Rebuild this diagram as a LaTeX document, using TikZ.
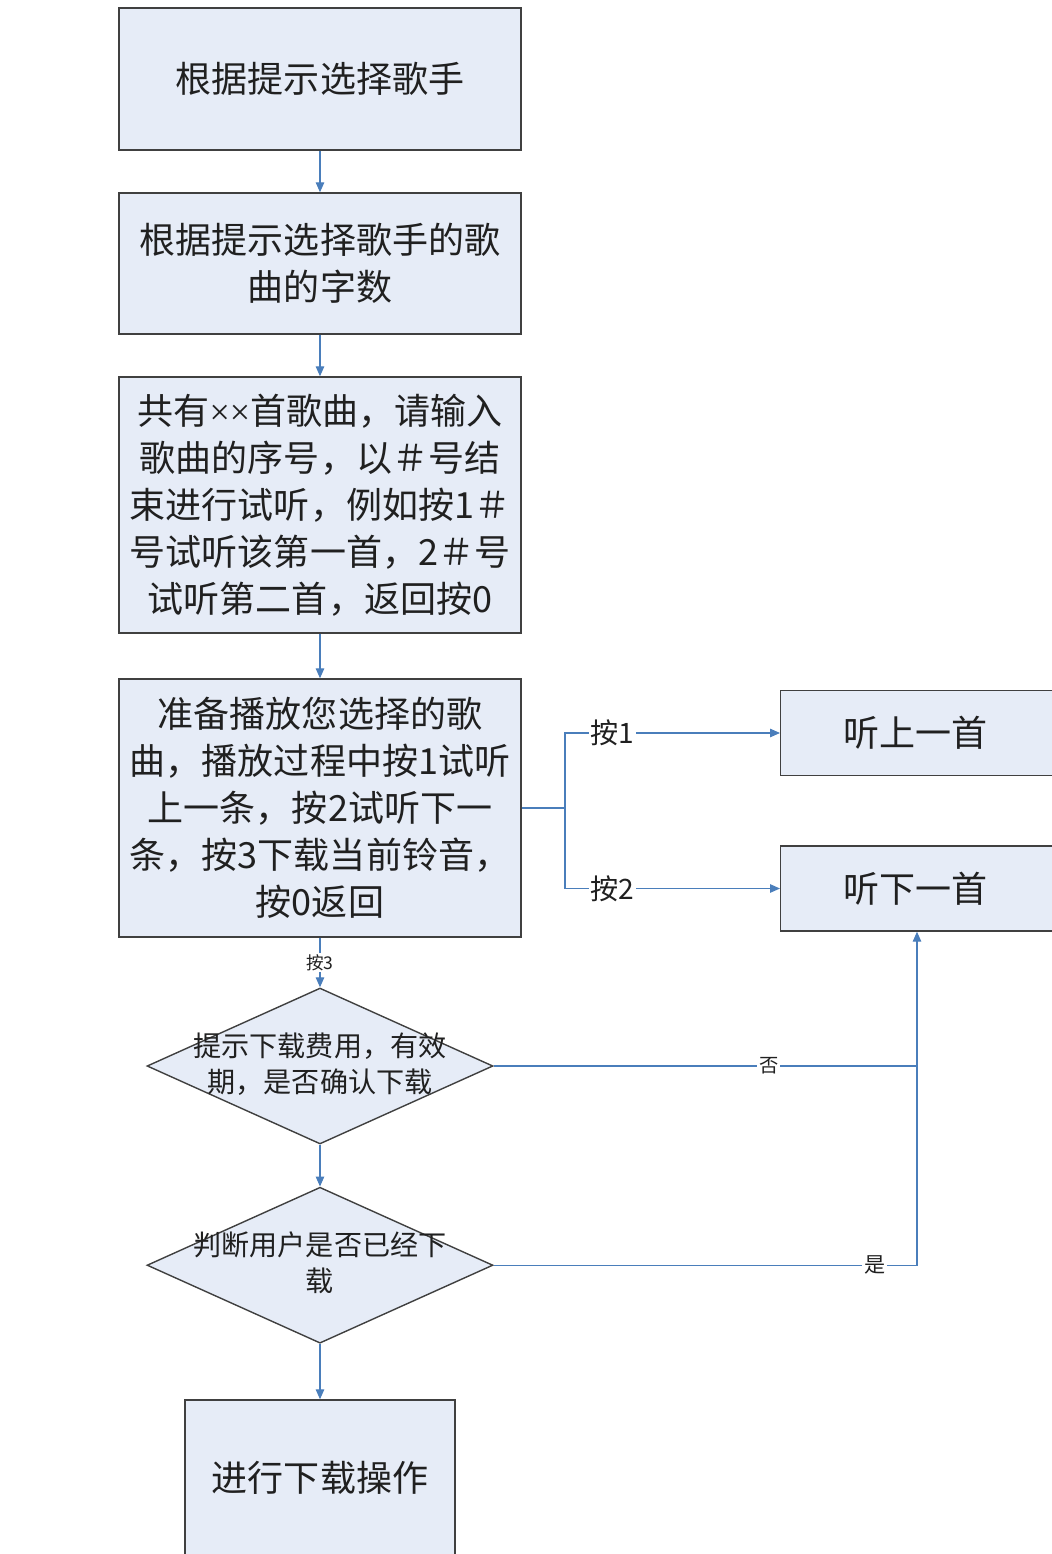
\documentclass[tikz,border=0pt]{standalone}
\usepackage{fontspec}
\usepackage{tikz}
\usepackage{xcolor}
\usetikzlibrary{shapes.geometric,positioning,arrows.meta,calc}
\newfontfamily\cjk{Noto Sans CJK SC}
\newfontfamily\latin{Liberation Serif}
\definecolor{boxFill}{HTML}{E6ECF7}
\definecolor{boxLine}{HTML}{404040}
\definecolor{flowBlue}{HTML}{4A7EBB}
\definecolor{txtDark}{HTML}{202020}

\begin{document}
\begin{tikzpicture}[x=0.02cm, y=-0.02cm, font=\cjk, text=txtDark]

    % Shapes
    \tikzstyle{step box}=[rectangle, draw=boxLine, line width=0.8pt, fill=boxFill, align=center, inner sep=0pt,
        minimum width=8.04cm, font=\cjk\fontsize{20.5}{26.7}\selectfont]
    \tikzstyle{side box}=[rectangle, draw=boxLine, line width=0.8pt, fill=boxFill, inner sep=0pt,
        minimum width=8cm, minimum height=1.7cm, font=\cjk\fontsize{20.5}{26.7}\selectfont]
    \tikzstyle{decision}=[diamond, draw=boxLine, line width=0.8pt, fill=boxFill, inner sep=0pt,
        minimum width=6.92cm, minimum height=3.12cm]
    \tikzstyle{decision text}=[align=center, inner sep=0pt, font=\cjk\fontsize{16}{20.5}\selectfont]
    \tikzstyle{flow}=[draw=flowBlue, line width=0.7pt]
    \tikzstyle{arrow}=[flow, -{Triangle[length=2mm, width=1.7mm]}, color=flowBlue]
    \tikzstyle{key}=[fill=white, inner sep=1pt, text=txtDark]

    \useasboundingbox (0,0) rectangle (1051,1554);

    % Blocks
    \node[step box, minimum height=2.84cm] at (320,79) (pickSinger) {根据提示选择歌手};
    \node[step box, minimum height=2.82cm] at (320,263.5) (pickLength) {根据提示选择歌手的歌\\曲的字数};
    \node[step box, minimum height=5.12cm] at (320,505) (songList)
        {共有{\latin ××}首歌曲，请输入\\歌曲的序号，以＃号结\\束进行试听，例如按1＃\\号试听该第一首，2＃号\\试听第二首，返回按0};
    \node[step box, minimum height=5.16cm] at (320,808) (playSong)
        {准备播放您选择的歌\\曲，播放过程中按1试听\\上一条，按2试听下一\\条，按3下载当前铃音，\\按0返回};

    % Side blocks (cut by the page edge)
    \node[side box, anchor=west] at (780,733) (prevSong) {\hspace*{-2.6cm}听上一首};
    \node[side box, anchor=west] at (780,888.5) (nextSong) {\hspace*{-2.6cm}听下一首};
    \coordinate (nextIn) at ($(nextSong.south west)+(137,0)$);

    % Decisions
    \node[decision] at (320,1066) (askFee) {};
    \node[decision text] at (320,1064) (askFeeText) {提示下载费用，有效\\期，是否确认下载};
    \node[decision] at (320,1265.2) (isLoaded) {};
    \node[decision text] at (320,1263) (isLoadedText) {判断用户是否已经下\\载};

    % Download
    \node[step box, minimum width=5.4cm, minimum height=3.12cm] at (320,1478) (download) {进行下载操作};

    % Arrows
    \draw[arrow] (pickSinger) -- (pickLength);
    \draw[arrow] (pickLength) -- (songList);
    \draw[arrow] (songList) -- (playSong);

    \coordinate (split) at (565,808);
    \draw[flow] (playSong.east) -- (split);
    \draw[arrow] (split) |- node[key, pos=0.61, font=\cjk\fontsize{16}{18}\selectfont] (key1) {按1} (prevSong.west);
    \draw[arrow] (split) |- node[key, pos=0.61, font=\cjk\fontsize{16}{18}\selectfont] (key2) {按2} (nextSong.west);

    \draw[arrow] (playSong.south) -- node[key, pos=0.5, font=\cjk\fontsize{10}{12}\selectfont] (key3) {按3} (askFee.north);
    \draw[arrow] (askFee.south) -- (isLoaded.north);
    \draw[arrow] (isLoaded.south) -- (download.north);

    \coordinate (joinNo) at (askFee.east -| nextIn);
    \draw[flow] (askFee.east) -- node[key, pos=0.65, font=\cjk\fontsize{11}{13}\selectfont] (no) {否} (joinNo);
    \draw[arrow] (isLoaded.east) -| node[key, pos=0.45, font=\cjk\fontsize{12}{14}\selectfont] (yes) {是} (nextIn);

\end{tikzpicture}
\end{document}
